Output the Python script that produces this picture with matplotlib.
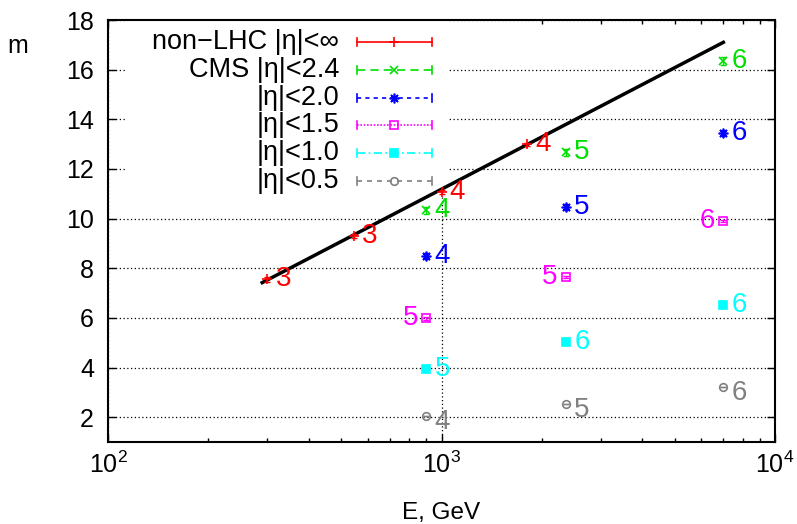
import matplotlib
matplotlib.use("Agg")
import matplotlib.pyplot as plt
from matplotlib.patches import Rectangle

plt.rcParams['font.family'] = ['Liberation Sans', 'DejaVu Sans']
plt.rcParams['mathtext.fontset'] = 'custom'
plt.rcParams['mathtext.rm'] = 'Liberation Sans'
plt.rcParams['mathtext.it'] = 'Liberation Sans:italic'

# ---- data ----
# non-LHC, |eta| < inf
red_E = [300, 546, 1000, 1800]
red_m = [7.56, 9.3, 11.06, 13.0]
red_err = [0.1, 0.08, 0.08, 0.06]
red_lab = ['3', '3', '4', '4']

# CMS energies
cms_E = [900, 2360, 7000]

green_m = [10.34, 12.68, 16.35]      # |eta| < 2.4
green_err = [0.14, 0.14, 0.16]
green_lab = ['4', '5', '6']

blue_m = [8.48, 10.46, 13.44]        # |eta| < 2.0
blue_err = [0.12, 0.12, 0.12]
blue_lab = ['4', '5', '6']

magenta_m = [5.98, 7.64, 9.9]        # |eta| < 1.5
magenta_err = [0.05, 0.05, 0.05]
magenta_lab = ['5', '5', '6']

cyan_m = [3.93, 5.02, 6.51]          # |eta| < 1.0
cyan_err = [0.05, 0.05, 0.05]
cyan_lab = ['5', '6', '6']

gray_m = [2.03, 2.52, 3.2]           # |eta| < 0.5
gray_err = [0.0, 0.0, 0.0]
gray_lab = ['4', '5', '6']

# fitted line
line_E = [290, 7000]
line_m = [7.42, 17.1]

legend_labels = ['non\u2212LHC |\u03b7|<\u221e', 'CMS |\u03b7|<2.4', '|\u03b7|<2.0',
                 '|\u03b7|<1.5', '|\u03b7|<1.0', '|\u03b7|<0.5']

# ---- styles ----
series = [
    # E, m, err, labels, color, marker, ms, mfc, linestyle, label side, label dy
    (red_E, red_m, red_err, red_lab, '#ff0000', '+', 7, '#ff0000', '-', 'right', 0),
    (cms_E, green_m, green_err, green_lab, '#00e000', 'x', 5.5, '#00e000', (0, (5, 3)), 'right', 0),
    (cms_E, blue_m, blue_err, blue_lab, '#0000ff', (8, 2, 0), 7, '#0000ff', (0, (2.5, 2.5)), 'right', 0),
    (cms_E, magenta_m, magenta_err, magenta_lab, '#ff00ff', 's', 6, 'none', (0, (1, 1)), 'left', 0),
    (cms_E, cyan_m, cyan_err, cyan_lab, '#00ffff', 's', 6, '#00ffff', (0, (5, 2, 1, 2)), 'right', 0),
    (cms_E, gray_m, gray_err, gray_lab, '#808080', 'o', 5.5, 'none', (0, (3, 3)), 'right', -4),
]

fig = plt.figure(figsize=(7.97, 5.24), dpi=100)
ax = fig.add_axes([108 / 797, 1 - 442 / 524, 667 / 797, 422 / 524])

ax.set_xscale('log')
ax.set_xlim(100, 10000)
ax.set_ylim(1, 18)
ax.set_yticks(range(2, 19, 2))

ax.grid(True, which='major', color='black', linestyle=(0, (1, 2)), linewidth=0.9)
ax.set_axisbelow(True)

ax.tick_params(which='both', direction='in', top=True, right=True, labelsize=18)
ax.tick_params(which='major', length=6, width=1)
ax.tick_params(which='minor', length=3, width=1)
ax.tick_params(axis='y', pad=10)
ax.tick_params(axis='x', pad=7)
for s in ax.spines.values():
    s.set_linewidth(1.5)

ax.plot(line_E, line_m, color='black', lw=2.5, zorder=3)

for E, m, err, lab, col, mk, ms, mfc, ls, side, dy in series:
    ax.errorbar(E, m, yerr=err, fmt='none', ecolor=col, elinewidth=1,
                capsize=2.5, capthick=1, zorder=4)
    ax.plot(E, m, linestyle='none', marker=mk, ms=ms, mfc=mfc, mec=col,
            mew=1.2, zorder=5)
    for e, v, t in zip(E, m, lab):
        if side == 'right':
            ax.annotate(t, (e, v), xytext=(6, dy), textcoords='offset points',
                        ha='left', va='center', fontsize=20, color=col)
        else:
            ax.annotate(t, (e, v), xytext=(-6, dy), textcoords='offset points',
                        ha='right', va='center', fontsize=20, color=col)

# key with opaque background, gnuplot style
ax.add_patch(Rectangle((0.0255, 0.597), 0.4842, 0.403, transform=ax.transAxes,
                       facecolor='white', edgecolor='none', zorder=2))
for i, (lab, st) in enumerate(zip(legend_labels, series)):
    col, mk, ms, mfc, ls = st[4], st[5], st[6], st[7], st[8]
    y = 0.9479 - i * 0.0659
    ax.text(0.3463, y, lab, transform=ax.transAxes, ha='right', va='center',
            fontsize=19.5, zorder=6)
    ax.plot([0.3733, 0.4858], [y, y], transform=ax.transAxes, color=col,
            linestyle=ls, lw=1.2, zorder=6)
    for xc in (0.3733, 0.4858):
        ax.plot([xc, xc], [y - 0.0095, y + 0.0095], transform=ax.transAxes,
                color=col, lw=1.2, zorder=6)
    ax.plot([0.4288], [y], transform=ax.transAxes, linestyle='none', marker=mk,
            ms=ms, mfc=mfc, mec=col, mew=1.2, zorder=7)

ax.set_xlim(100, 10000)
ax.set_ylim(1, 18)

ax.set_xlabel('E, GeV', fontsize=17.5, labelpad=17)
ax.set_ylabel('m', fontsize=18, rotation=0, ha='center', va='center')
ax.yaxis.set_label_coords(-0.135, 0.938)

fig.savefig('out.png', dpi=100)
